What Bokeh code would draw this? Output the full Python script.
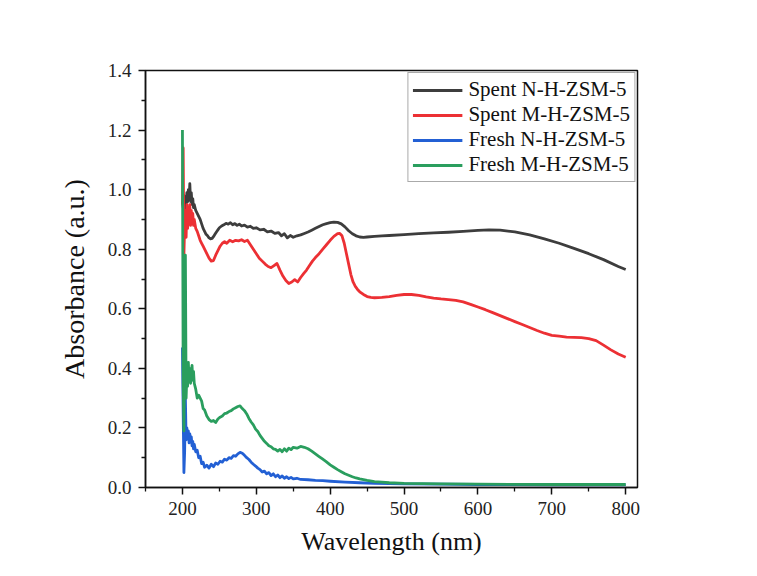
from bokeh.plotting import figure
from bokeh.models import Range1d, FixedTicker, Legend, LegendItem
from bokeh.embed import file_html
from bokeh.resources import INLINE

# ---------------- data ----------------
spent_n_wl = [200, 201, 202, 203, 204, 205, 206, 207, 208, 209, 210, 211, 212, 213, 214, 215, 216, 218, 220, 222,
              224, 226, 228, 230, 232, 234, 236, 238, 240, 242, 244, 246, 248, 250, 253, 256, 259, 262, 265, 268,
              271, 274, 277, 280, 284, 288, 292, 296, 300, 305, 310, 315, 320, 325, 330, 334, 338, 342, 346, 350,
              355, 360, 365, 370, 375, 380, 385, 390, 395, 400, 405, 410, 415, 420, 425, 430, 435, 440, 445, 450,
              460, 470, 480, 500, 520, 540, 560, 580, 600, 615, 630, 650, 670, 690, 710, 730, 750, 770, 790, 800]
spent_n_abs = [0.96, 0.94, 0.98, 0.93, 0.97, 0.95, 0.99, 0.96, 1.00, 0.97, 1.02, 0.96, 0.99, 0.95, 0.97, 0.94, 0.95, 0.93, 0.92, 0.91,
               0.90, 0.885, 0.87, 0.86, 0.85, 0.845, 0.838, 0.835, 0.836, 0.842, 0.85, 0.858, 0.865, 0.872, 0.878, 0.882, 0.887, 0.884, 0.889, 0.882,
               0.886, 0.88, 0.884, 0.878, 0.881, 0.874, 0.877, 0.87, 0.872, 0.865, 0.867, 0.858, 0.861, 0.853, 0.856, 0.845, 0.852, 0.838, 0.846, 0.84,
               0.845, 0.848, 0.853, 0.858, 0.864, 0.87, 0.876, 0.882, 0.886, 0.889, 0.891, 0.89, 0.885, 0.875, 0.862, 0.852, 0.845, 0.841, 0.84, 0.841,
               0.843, 0.845, 0.846, 0.849, 0.852, 0.855, 0.857, 0.86, 0.863, 0.865, 0.864, 0.858, 0.848, 0.835, 0.82, 0.803, 0.785, 0.765, 0.742, 0.732]

spent_m_wl = [200, 201, 202, 203, 204, 205, 206, 207, 208, 209, 210, 211, 212, 213, 214, 215, 216, 218, 220, 222,
              224, 226, 228, 230, 233, 236, 239, 242, 245, 248, 251, 254, 257, 260, 264, 268, 272, 276, 280, 284,
              288, 292, 296, 300, 304, 308, 312, 316, 320, 324, 328, 332, 336, 340, 344, 348, 352, 356, 360, 364,
              368, 372, 376, 380, 385, 390, 395, 400, 405, 410, 413, 416, 419, 422, 425, 428, 431, 434, 437, 440,
              445, 450, 455, 460, 470, 480, 490, 500, 510, 520, 530, 540, 550, 560, 570, 580, 590, 600, 610, 620,
              630, 640, 650, 660, 670, 680, 690, 700, 710, 720, 730, 740, 750, 760, 770, 780, 790, 800]
spent_m_abs = [0.95, 1.14, 0.78, 0.88, 0.93, 0.84, 0.95, 0.87, 0.92, 0.89, 0.95, 0.88, 0.93, 0.90, 0.92, 0.88, 0.90, 0.87, 0.86, 0.845,
               0.83, 0.82, 0.81, 0.80, 0.785, 0.77, 0.76, 0.762, 0.78, 0.795, 0.81, 0.82, 0.825, 0.82, 0.83, 0.825, 0.83, 0.828, 0.832, 0.826,
               0.83, 0.815, 0.80, 0.785, 0.77, 0.76, 0.75, 0.742, 0.738, 0.745, 0.752, 0.73, 0.71, 0.695, 0.685, 0.69, 0.698, 0.69, 0.705, 0.718,
               0.73, 0.745, 0.76, 0.772, 0.785, 0.80, 0.815, 0.83, 0.843, 0.852, 0.853, 0.845, 0.82, 0.785, 0.75, 0.715, 0.69, 0.675, 0.665, 0.657,
               0.648, 0.641, 0.638, 0.637, 0.638, 0.641, 0.645, 0.648, 0.648, 0.645, 0.64, 0.636, 0.633, 0.631, 0.628, 0.623, 0.615, 0.606, 0.597, 0.587,
               0.577, 0.567, 0.557, 0.547, 0.537, 0.527, 0.518, 0.511, 0.508, 0.505, 0.504, 0.503, 0.50, 0.493, 0.478, 0.462, 0.448, 0.437]

fresh_n_wl = [200, 201, 202, 203, 204, 205, 206, 207, 208, 209, 210, 211, 212, 213, 214, 215, 216, 218, 220, 222,
              224, 226, 228, 230, 233, 236, 239, 242, 245, 248, 251, 254, 257, 260, 263, 266, 269, 272, 275, 278,
              281, 284, 287, 290, 293, 296, 299, 302, 305, 308, 311, 314, 317, 320, 323, 326, 329, 332, 335, 338,
              341, 344, 347, 350, 355, 360, 370, 380, 390, 400, 420, 440, 460, 500, 550, 600, 700, 800]
fresh_n_abs = [0.47, 0.25, 0.05, 0.12, 0.30, 0.16, 0.20, 0.17, 0.19, 0.15, 0.18, 0.16, 0.17, 0.14, 0.155, 0.13, 0.145, 0.12, 0.125, 0.10,
               0.105, 0.08, 0.085, 0.068, 0.075, 0.065, 0.078, 0.07, 0.082, 0.078, 0.088, 0.085, 0.095, 0.092, 0.10, 0.098, 0.107, 0.105, 0.113, 0.118,
               0.115, 0.108, 0.10, 0.094, 0.085, 0.078, 0.072, 0.065, 0.06, 0.052, 0.055, 0.046, 0.05, 0.04, 0.046, 0.036, 0.042, 0.033, 0.039, 0.031,
               0.036, 0.03, 0.034, 0.029, 0.031, 0.027, 0.026, 0.024, 0.023, 0.021, 0.018, 0.016, 0.014, 0.012, 0.011, 0.010, 0.009, 0.009]

fresh_m_wl = [200, 201, 202, 203, 204, 205, 206, 207, 208, 209, 210, 211, 212, 213, 214, 215, 216, 218, 220, 222,
              224, 226, 228, 230, 233, 236, 239, 242, 245, 248, 251, 254, 257, 260, 263, 266, 269, 272, 275, 278,
              281, 284, 287, 290, 293, 296, 299, 302, 305, 308, 311, 314, 317, 320, 323, 326, 329, 332, 335, 338,
              341, 344, 347, 350, 355, 360, 365, 370, 375, 380, 385, 390, 395, 400, 405, 410, 415, 420, 425, 430,
              435, 440, 450, 460, 470, 480, 500, 550, 600, 700, 800]
fresh_m_abs = [1.20, 0.35, 0.19, 0.45, 0.78, 0.30, 0.38, 0.34, 0.42, 0.36, 0.40, 0.35, 0.39, 0.41, 0.36, 0.39, 0.35, 0.33, 0.30, 0.31,
               0.30, 0.29, 0.265, 0.26, 0.24, 0.228, 0.222, 0.225, 0.218, 0.23, 0.236, 0.24, 0.248, 0.25, 0.255, 0.258, 0.264, 0.268, 0.272, 0.274,
               0.265, 0.258, 0.247, 0.232, 0.22, 0.21, 0.196, 0.188, 0.175, 0.165, 0.155, 0.148, 0.14, 0.137, 0.13, 0.128, 0.122, 0.128, 0.12, 0.13,
               0.122, 0.132, 0.127, 0.135, 0.132, 0.138, 0.135, 0.13, 0.122, 0.113, 0.104, 0.095, 0.086, 0.076, 0.068, 0.06, 0.053, 0.046, 0.041, 0.036,
               0.032, 0.029, 0.024, 0.02, 0.018, 0.016, 0.014, 0.012, 0.011, 0.010, 0.010]

series_names = ["Spent N-H-ZSM-5", "Spent M-H-ZSM-5", "Fresh N-H-ZSM-5", "Fresh M-H-ZSM-5"]
x_ticks = [200, 300, 400, 500, 600, 700, 800]
y_ticks = [0.0, 0.2, 0.4, 0.6, 0.8, 1.0, 1.2, 1.4]

# ---------------- figure ----------------
FONT = "Liberation Serif"
p = figure(width=757, height=576, output_backend="svg", toolbar_location=None,
           x_range=Range1d(150, 816), y_range=Range1d(0, 1.4),
           min_border_left=145, min_border_right=120, min_border_top=70, min_border_bottom=89)
p.background_fill_color = "white"
p.border_fill_color = "white"
p.grid.visible = False
p.outline_line_color = "#111111"
p.outline_line_width = 1.5

colors = ["#3d3d3d", "#ec3034", "#2360d4", "#2a9e5e"]
data = [(spent_n_wl, spent_n_abs), (spent_m_wl, spent_m_abs), (fresh_n_wl, fresh_n_abs), (fresh_m_wl, fresh_m_abs)]
renderers = []
for (xs, ys), c in zip(data, colors):
    r = p.line(xs, ys, line_color=c, line_width=2.8, line_join="round")
    renderers.append(r)

for ax in (p.xaxis[0], p.yaxis[0]):
    ax.axis_line_color = "#111111"
    ax.axis_line_width = 1.5
    ax.major_tick_line_color = "#111111"
    ax.minor_tick_line_color = "#111111"
    ax.major_tick_line_width = 1.5
    ax.minor_tick_line_width = 1.3
    ax.major_tick_in = 0
    ax.major_tick_out = 7
    ax.minor_tick_in = 0
    ax.minor_tick_out = 4
    ax.major_label_text_font = FONT
    ax.major_label_text_font_size = "19px"
    ax.major_label_text_color = "#222222"
    ax.axis_label_text_font = FONT
    ax.axis_label_text_font_style = "normal"
    ax.axis_label_text_color = "#111111"

p.xaxis.axis_label_text_font_size = "26px"
p.yaxis.axis_label_text_font_size = "28px"
p.xaxis.ticker = FixedTicker(ticks=x_ticks, minor_ticks=[150, 250, 350, 450, 550, 650, 750])
p.yaxis.ticker = FixedTicker(ticks=y_ticks, minor_ticks=[0.1, 0.3, 0.5, 0.7, 0.9, 1.1, 1.3])
p.yaxis.major_label_overrides = {t: f"{t:.1f}" for t in y_ticks}
p.xaxis.axis_label = "Wavelength (nm)"
p.yaxis.axis_label = "Absorbance (a.u.)"
p.xaxis.major_label_standoff = 7
p.xaxis.axis_label_standoff = 9
p.yaxis.major_label_standoff = 7
p.yaxis.axis_label_standoff = 15

legend = Legend(items=[LegendItem(label=n, renderers=[r]) for n, r in zip(series_names, renderers)],
                location="top_right", margin=2)
legend.label_text_font = FONT
legend.label_text_font_size = "21px"
legend.label_text_color = "#111111"
legend.border_line_color = "#555555"
legend.border_line_width = 1
legend.background_fill_alpha = 1.0
legend.glyph_width = 50
legend.glyph_height = 20
legend.label_height = 20
legend.label_standoff = 6
legend.spacing = 0
legend.padding = 4
p.add_layout(legend)

open("out.html", "w").write(file_html(p, INLINE))
